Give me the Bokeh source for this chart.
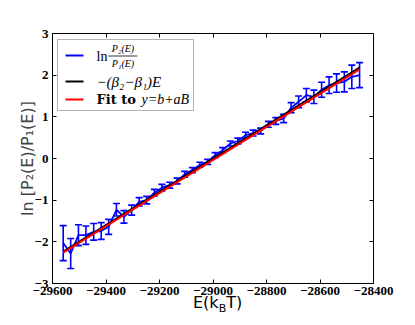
from bokeh.plotting import figure
from bokeh.models import (ColumnDataSource, Whisker, TeeHead, Label, BoxAnnotation,
                          FixedTicker, LinearAxis, PrintfTickFormatter, Div)
from bokeh.layouts import column
from bokeh.embed import file_html
from bokeh.resources import INLINE

# ---- data ----
energy = [-29560, -29532, -29503, -29475, -29446, -29418, -29390, -29361, -29333, -29304,
          -29276, -29248, -29219, -29191, -29162, -29134, -29106, -29077, -29049, -29020,
          -28992, -28964, -28935, -28907, -28878, -28850, -28822, -28793, -28765, -28736,
          -28708, -28680, -28651, -28623, -28594, -28566, -28538, -28509, -28481, -28452]
log_ratio = [-2.03, -2.28, -1.84, -1.84, -1.76, -1.74, -1.64, -1.23, -1.40, -1.24,
             -1.04, -1.00, -0.82, -0.70, -0.64, -0.54, -0.38, -0.28, -0.15, -0.08,
             0.08, 0.20, 0.36, 0.42, 0.56, 0.61, 0.66, 0.82, 0.90, 0.96,
             1.22, 1.36, 1.52, 1.48, 1.65, 1.76, 1.81, 1.84, 1.96, 2.00]
log_ratio_err = [0.42, 0.36, 0.25, 0.22, 0.20, 0.20, 0.18, 0.15, 0.15, 0.12,
                 0.10, 0.09, 0.08, 0.08, 0.07, 0.07, 0.07, 0.06, 0.06, 0.06,
                 0.06, 0.06, 0.06, 0.07, 0.07, 0.07, 0.07, 0.07, 0.08, 0.10,
                 0.12, 0.14, 0.16, 0.16, 0.18, 0.20, 0.22, 0.24, 0.28, 0.30]
# -(beta2 - beta1) E + const  and fitted  y = b + aE
beta_slope, beta_icept = 0.00399, 115.708
fit_a, fit_b = 0.003971, 115.123

x_ticks = [-29600, -29400, -29200, -29000, -28800, -28600, -28400]
y_ticks = [-3, -2, -1, 0, 1, 2, 3]
X0, X1 = -29600, -28400
Y0, Y1 = -3, 3

# ---- layout helpers (reference-picture pixels -> data coords) ----
FL, FR, FT, FB = 52, 373, 33, 283
def dx(px):
    return X0 + (px - FL) / (FR - FL) * (X1 - X0)
def dy(py):
    return Y1 - (py - FT) / (FB - FT) * (Y1 - Y0)

p = figure(width=407, height=303, x_range=(X0, X1), y_range=(Y0, Y1),
           output_backend="svg", toolbar_location=None,
           min_border_left=52, min_border_top=33, min_border_right=34, min_border_bottom=20)
p.background_fill_color = "white"
p.border_fill_color = "white"
p.outline_line_color = "black"
p.outline_line_width = 1
p.grid.visible = False

tick_font = "Liberation Serif"
for ax in (p.xaxis[0], p.yaxis[0]):
    ax.major_tick_in = 4
    ax.major_tick_out = 0
    ax.minor_tick_line_color = None
    ax.axis_line_color = "black"
    ax.major_tick_line_color = "black"
    ax.major_label_text_font = tick_font
    ax.major_label_text_font_style = "bold"
    ax.major_label_text_font_size = "13px"
    ax.major_label_text_color = "black"
p.xaxis.ticker = FixedTicker(ticks=x_ticks)
p.yaxis.ticker = FixedTicker(ticks=y_ticks)
p.xaxis.major_label_standoff = 3
p.yaxis.major_label_standoff = 4
p.yaxis.axis_label = "ln [P\u2082(E)/P\u2081(E)]"
p.yaxis.axis_label_text_font = "DejaVu Sans"
p.yaxis.axis_label_text_font_style = "normal"
p.yaxis.axis_label_text_font_size = "16px"
p.yaxis.axis_label_standoff = -5

for loc, tk in (("right", y_ticks), ("above", x_ticks)):
    ax = LinearAxis(ticker=FixedTicker(ticks=tk), formatter=PrintfTickFormatter(format=""))
    ax.major_tick_in = 4
    ax.major_tick_out = 0
    ax.minor_tick_line_color = None
    ax.axis_line_color = None
    ax.major_label_standoff = 0
    ax.major_label_text_font_size = "1px"
    p.add_layout(ax, loc)

src = ColumnDataSource(dict(x=energy, y=log_ratio,
                            lo=[v - e for v, e in zip(log_ratio, log_ratio_err)],
                            hi=[v + e for v, e in zip(log_ratio, log_ratio_err)]))
p.line("x", "y", source=src, line_color="#0000ff", line_width=1.8)
p.add_layout(Whisker(base="x", lower="lo", upper="hi", source=src,
                     line_color="#0000ff", line_width=1.6,
                     upper_head=TeeHead(size=7, line_color="#0000ff", line_width=1.6),
                     lower_head=TeeHead(size=7, line_color="#0000ff", line_width=1.6)))

ex = [energy[0], energy[-1]]
p.line(ex, [beta_slope * e + beta_icept for e in ex], line_color="black", line_width=2)
p.line(ex, [fit_a * e + fit_b for e in ex], line_color="#ff0000", line_width=2)

# ---- hand-built legend ----
p.add_layout(BoxAnnotation(left=dx(57), right=dx(193), top=dy(39), bottom=dy(110),
                           fill_color="white", fill_alpha=1, line_color="black", line_width=1))
for py, col in ((55, "#0000ff"), (81, "black"), (99, "#ff0000")):
    p.line([dx(65), dx(83)], [dy(py), dy(py)], line_color=col, line_width=2, level="overlay")
serif = "Liberation Serif"
def lab(px, py, text, size, style="normal", align="left", font=serif):
    p.add_layout(Label(x=dx(px), y=dy(py), text=text, text_font=font, text_font_style=style,
                       text_font_size=size, text_baseline="middle", text_align=align,
                       text_color="black"))
lab(96, 56, "ln", "14px")
lab(122.5, 48, "P\u2082(E)", "10px", "italic", "center")
lab(122.5, 63, "P\u2081(E)", "10px", "italic", "center")
p.line([dx(108), dx(137)], [dy(55.5), dy(55.5)], line_color="black", line_width=0.8,
       level="overlay")
lab(96, 81, "\u2212(\u03b2\u2082\u2212\u03b2\u2081)E", "15px", "italic")
lab(96, 99, "Fit to", "13px", "bold", font="DejaVu Serif")
lab(141, 99, "y=b+aB", "14px", "italic")

# ---- x-axis label with subscript (HTML text under the plot) ----
xlabel = Div(text='E(k<span style="font-size:11px;position:relative;top:4px">B</span>T)',
             width=80, height=18, margin=(-9, 0, 0, 193),
             styles={"font-family": "DejaVu Sans", "font-size": "16px", "line-height": "18px",
                     "color": "black", "white-space": "nowrap"})

open("out.html", "w").write(file_html(column(p, xlabel, spacing=0), INLINE))
